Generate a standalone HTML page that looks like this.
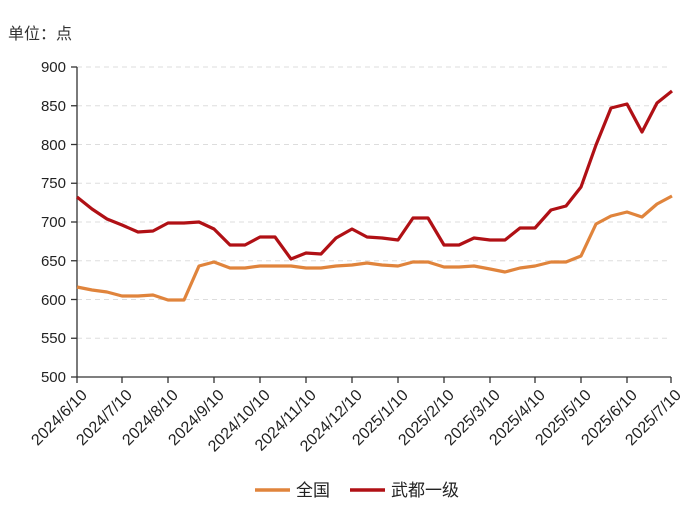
<!DOCTYPE html>
<html><head><meta charset="utf-8"><style>body{margin:0;background:#fff}</style></head><body>
<svg width="700" height="521" xmlns="http://www.w3.org/2000/svg" font-family="Liberation Sans, Noto Sans CJK SC, sans-serif">
<text x="8" y="39" font-size="16" fill="#333">单位：点</text>
<g stroke="#ddd" stroke-dasharray="5,4" stroke-width="1">
<line x1="77" x2="671" y1="67" y2="67"/><line x1="77" x2="671" y1="105.75" y2="105.75"/><line x1="77" x2="671" y1="144.5" y2="144.5"/><line x1="77" x2="671" y1="183.25" y2="183.25"/><line x1="77" x2="671" y1="222" y2="222"/><line x1="77" x2="671" y1="260.75" y2="260.75"/><line x1="77" x2="671" y1="299.5" y2="299.5"/><line x1="77" x2="671" y1="338.25" y2="338.25"/>
</g>
<g stroke="#333" stroke-width="1.3">
<line x1="77" x2="77" y1="67" y2="377"/><line x1="77" x2="671" y1="377" y2="377"/>
<line x1="71" x2="77" y1="67" y2="67"/><line x1="71" x2="77" y1="105.75" y2="105.75"/><line x1="71" x2="77" y1="144.5" y2="144.5"/><line x1="71" x2="77" y1="183.25" y2="183.25"/><line x1="71" x2="77" y1="222" y2="222"/><line x1="71" x2="77" y1="260.75" y2="260.75"/><line x1="71" x2="77" y1="299.5" y2="299.5"/><line x1="71" x2="77" y1="338.25" y2="338.25"/><line x1="71" x2="77" y1="377" y2="377"/>
<line x1="77" x2="77" y1="377" y2="383"/><line x1="122" x2="122" y1="377" y2="383"/><line x1="168" x2="168" y1="377" y2="383"/><line x1="214" x2="214" y1="377" y2="383"/><line x1="260" x2="260" y1="377" y2="383"/><line x1="306" x2="306" y1="377" y2="383"/><line x1="352" x2="352" y1="377" y2="383"/><line x1="398" x2="398" y1="377" y2="383"/><line x1="444" x2="444" y1="377" y2="383"/><line x1="490" x2="490" y1="377" y2="383"/><line x1="535" x2="535" y1="377" y2="383"/><line x1="581" x2="581" y1="377" y2="383"/><line x1="627" x2="627" y1="377" y2="383"/><line x1="671" x2="671" y1="377" y2="383"/>
</g>
<g font-size="15" fill="#222" text-anchor="end">
<text x="66" y="72">900</text><text x="66" y="111">850</text><text x="66" y="150">800</text><text x="66" y="188">750</text><text x="66" y="227">700</text><text x="66" y="266">650</text><text x="66" y="305">600</text><text x="66" y="343">550</text><text x="66" y="382">500</text>
</g>
<g font-size="16" fill="#222" text-anchor="end">
<text transform="translate(88,396) rotate(-45)">2024/6/10</text>
<text transform="translate(133,396) rotate(-45)">2024/7/10</text>
<text transform="translate(179,396) rotate(-45)">2024/8/10</text>
<text transform="translate(225,396) rotate(-45)">2024/9/10</text>
<text transform="translate(271,396) rotate(-45)">2024/10/10</text>
<text transform="translate(317,396) rotate(-45)">2024/11/10</text>
<text transform="translate(363,396) rotate(-45)">2024/12/10</text>
<text transform="translate(409,396) rotate(-45)">2025/1/10</text>
<text transform="translate(455,396) rotate(-45)">2025/2/10</text>
<text transform="translate(501,396) rotate(-45)">2025/3/10</text>
<text transform="translate(546,396) rotate(-45)">2025/4/10</text>
<text transform="translate(592,396) rotate(-45)">2025/5/10</text>
<text transform="translate(638,396) rotate(-45)">2025/6/10</text>
<text transform="translate(682,396) rotate(-45)">2025/7/10</text>
</g>
<polyline fill="none" stroke="#e0843c" stroke-width="3.2" stroke-linejoin="round" points="77,287 92,290 107,292 122,296 138,296 153,295 168,300 184,300 199,266 214,262 230,268 245,268 260,266 275,266 291,266 306,268 321,268 336,266 352,265 367,263 382,265 398,266 413,262 428,262 444,267 459,267 474,266 490,269 505,272 520,268 535,266 551,262 566,262 581,256 596,224 611,216 627,212 642,217 657,204 672,196"/>
<polyline fill="none" stroke="#b01015" stroke-width="3.2" stroke-linejoin="round" points="77,197 92,209 107,219 122,225 138,232 153,231 168,223 184,223 199,222 214,229 230,245 245,245 260,237 275,237 291,259 306,253 321,254 336,238 352,229 367,237 382,238 398,240 413,218 428,218 444,245 459,245 474,238 490,240 505,240 520,228 535,228 551,210 566,206 581,187 596,145 611,108 627,104 642,132 657,103 672,91"/>
<line x1="255" x2="290" y1="490" y2="490" stroke="#e0843c" stroke-width="3.5"/>
<text x="296" y="496" font-size="17" fill="#222">全国</text>
<line x1="350" x2="385" y1="490" y2="490" stroke="#b01015" stroke-width="3.5"/>
<text x="391" y="496" font-size="17" fill="#222">武都一级</text>
</svg>
</body></html>
